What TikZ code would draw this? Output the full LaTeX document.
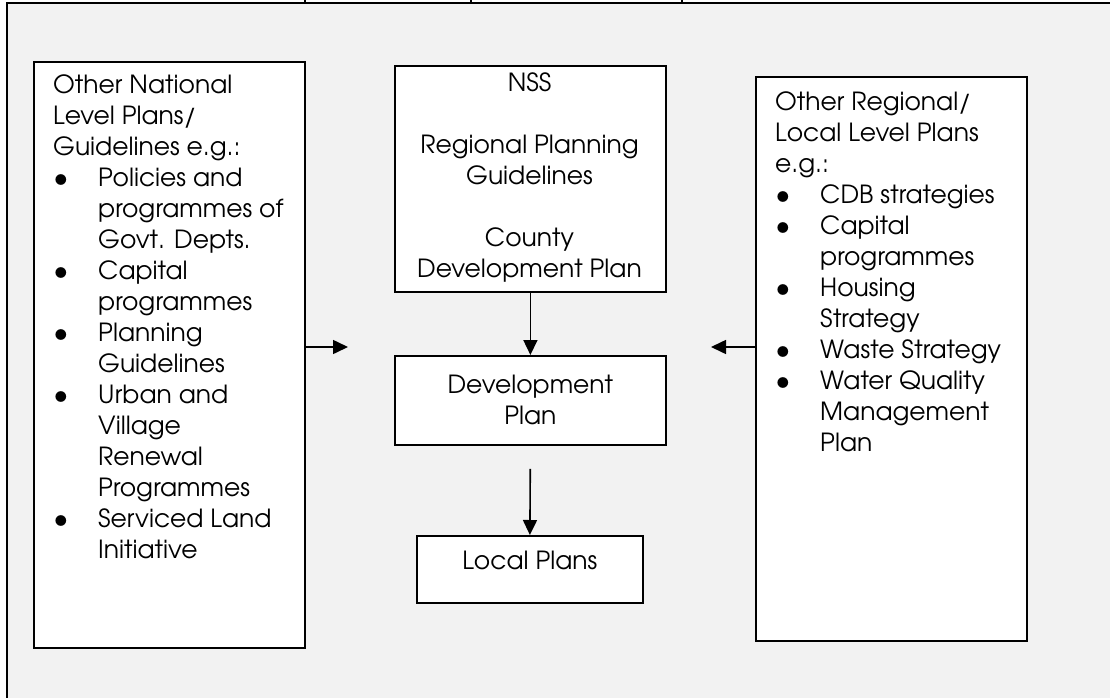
\documentclass[tikz,border=0pt]{standalone}
\usepackage{fontspec}
\setmainfont{TeX Gyre Adventor}
\usepackage{xcolor}
\usepackage{graphicx}
\usetikzlibrary{arrows.meta,positioning}
\definecolor{panelgray}{HTML}{F2F2F2}
\tikzset{
    box/.style={
        rectangle,
        draw,
        fill=white,
        line width=1.8pt,
        inner sep=0pt,
        anchor=north west,
        align=center,
        font=\fontsize{25}{31}\selectfont
    },
    arrow/.style={-{Triangle[length=15pt,width=14pt]}, line width=1.6pt},
    listtext/.style={
        align=left,
        inner sep=0pt,
        anchor=north west,
        font=\fontsize{25}{31}\selectfont
    }
}
\newcommand{\itm}{\makebox[45pt][l]{\raisebox{-1.5pt}{\scalebox{1.2}{\textbullet}}}}
\newcommand{\cnt}{\hspace*{45pt}}

\begin{document}
\begin{tikzpicture}[x=1pt,y=-1pt]
        \useasboundingbox (0,0) rectangle (1110,698);
        % Sfondo e cornice
        \fill[panelgray] (6.7,3.3) rectangle (1110,698);
        \draw[line width=1.8pt] (6.7,698) -- (6.7,3.3) -- (1110,3.3);
        \foreach \x in {305, 471, 682}
            \draw[line width=1.5pt] (\x,0) -- (\x,3.3);

        % Riquadri
        \node[box, minimum width=271pt, minimum height=586pt] (natl) at (33,61) {};
        \node[box, minimum width=271pt, minimum height=226pt] (nss) at (394,65) {};
        \node[box, minimum width=271pt, minimum height=89pt] (devplan) at (394,355) {Development\\Plan};
        \node[box, minimum width=226pt, minimum height=67pt] (local) at (416,535) {};
        \node[box, minimum width=271pt, minimum height=564pt] (regl) at (755,76) {};

        % Testi
        \node[listtext] (natltxt) at (53,74) {Other National\\Level Plans/\\Guidelines e.g.:\\
            \itm Policies and\\\cnt programmes of\\\cnt Govt. Depts.\\
            \itm Capital\\\cnt programmes\\
            \itm Planning\\\cnt Guidelines\\
            \itm Urban and\\\cnt Village\\\cnt Renewal\\\cnt Programmes\\
            \itm Serviced Land\\\cnt Initiative};
        \node[listtext, align=center, anchor=north] (nsstxt) at (529.5,72) {NSS\\[31pt]Regional Planning\\Guidelines\\[31pt]County\\Development Plan};
        \node[listtext] (regltxt) at (775,91) {Other Regional/\\Local Level Plans\\e.g.:\\
            \itm CDB strategies\\
            \itm Capital\\\cnt programmes\\
            \itm Housing\\\cnt Strategy\\
            \itm Waste Strategy\\
            \itm Water Quality\\\cnt Management\\\cnt Plan};
        \node[listtext, anchor=base] (localtxt) at (local.center) {Local Plans};

        % Frecce
        \coordinate (natlend) at (348,347);
        \coordinate (reglend) at (711,347);
        \draw[arrow] (nss.south) -- (devplan.north);
        \draw[arrow, shorten <=23pt] (devplan.south) -- (local.north);
        \draw[arrow] (natl.east |- natlend) -- (natlend);
        \draw[arrow] (regl.west |- reglend) -- (reglend);
    \end{tikzpicture}
\end{document}
